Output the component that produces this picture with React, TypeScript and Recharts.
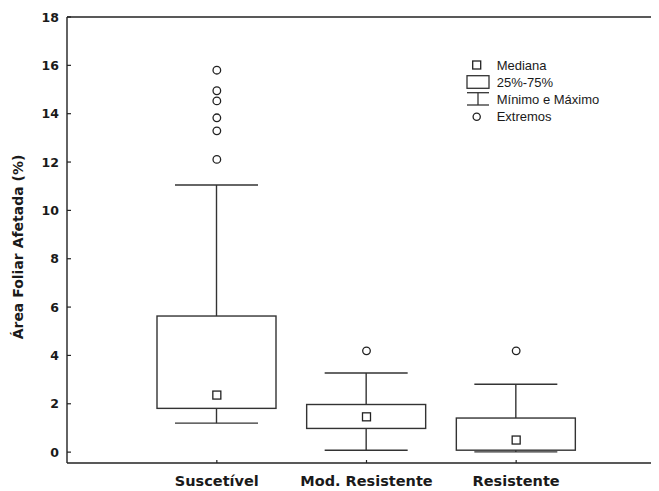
import React from 'react';
import { ComposedChart, Bar, Scatter, XAxis, YAxis, ReferenceLine, Legend } from 'recharts';

const categorias = ['Suscetível', 'Mod. Resistente', 'Resistente'];
const minimos = [1.2, 0.08, 0.01];
const quartil1 = [1.81, 0.98, 0.08];
const medianas = [2.36, 1.46, 0.5];
const quartil3 = [5.63, 1.97, 1.41];
const maximos = [11.05, 3.27, 2.81];
const extremos = [
  [15.8, 14.95, 14.53, 13.83, 13.29, 12.11],
  [4.19],
  [4.19],
];
const yTicks = [0, 2, 4, 6, 8, 10, 12, 14, 16, 18];
const legendLabels = ['Mediana', '25%-75%', 'Mínimo e Máximo', 'Extremos'];

const extremoKeys = ['e1', 'e2', 'e3', 'e4', 'e5', 'e6'];

const data = categorias.map((name, i) => {
  const row: any = {
    name,
    min: minimos[i],
    q1: quartil1[i],
    median: medianas[i],
    q3: quartil3[i],
    max: maximos[i],
  };
  extremoKeys.forEach((k, j) => {
    row[k] = extremos[i][j] ?? null;
  });
  return row;
});

const LINE = '#333';
const AXIS = '#222';
const BOLD = '"DejaVu Sans", "Liberation Sans", Arial, sans-serif';
const REG = '"Liberation Sans", Arial, sans-serif';

const WhiskerShape = (p: any) => {
  const { x, y, width, height } = p;
  if (x == null || y == null) return <g />;
  const top = Math.min(y, y + height);
  const bot = Math.max(y, y + height);
  const cx = x + width / 2;
  return (
    <g stroke={LINE} strokeWidth={1.4} fill="none">
      <line x1={cx} x2={cx} y1={top} y2={bot} />
      <line x1={x} x2={x + width} y1={top} y2={top} />
      <line x1={x} x2={x + width} y1={bot} y2={bot} />
    </g>
  );
};

const BoxShape = (p: any) => {
  const { x, y, width, height } = p;
  if (x == null || y == null) return <g />;
  const top = Math.min(y, y + height);
  const h = Math.abs(height);
  return <rect x={x} y={top} width={width} height={h} fill="#fff" stroke={LINE} strokeWidth={1.4} />;
};

const SquareShape = (p: any) => {
  const { cx, cy } = p;
  if (cx == null || cy == null || Number.isNaN(cy)) return <g />;
  return <rect x={cx - 4} y={cy - 4} width={8} height={8} fill="#fff" stroke={AXIS} strokeWidth={1.3} />;
};

const makeCircle = (key: string) => (p: any) => {
  const { cx, cy, payload } = p;
  if (cx == null || cy == null || Number.isNaN(cy) || !payload || payload[key] == null) return <g />;
  return <circle cx={cx} cy={cy} r={3.8} fill="#fff" stroke={AXIS} strokeWidth={1.3} />;
};

const XTick = (p: any) => {
  const { x, y, payload } = p;
  return (
    <text x={x} y={y} dy="0.71em" textAnchor="middle" fontFamily={BOLD} fontWeight="bold" fontSize={14.5} fill="#1a1a1a">
      {payload.value}
    </text>
  );
};

const YTick = (p: any) => {
  const { x, y, payload } = p;
  return (
    <text x={x} y={y} dy="0.36em" textAnchor="end" fontFamily={BOLD} fontWeight="bold" fontSize={12.5} fill="#1a1a1a">
      {payload.value}
    </text>
  );
};

const YLabel = () => (
  <text
    x={10}
    y={239}
    transform="rotate(-90, 10, 239)"
    textAnchor="middle"
    dominantBaseline="central"
    fontFamily={BOLD}
    fontWeight="bold"
    fontSize={14}
    fill="#1a1a1a"
  >
    Área Foliar Afetada (%)
  </text>
);

const LegendContent = () => (
  <svg width={180} height={75} style={{ display: 'block', overflow: 'visible' }}>
    <rect x={12.7} y={6} width={8} height={8} fill="#fff" stroke={AXIS} strokeWidth={1.3} />
    <rect x={7} y={20.7} width={22} height={12.6} fill="#fff" stroke={LINE} strokeWidth={1.3} />
    <g stroke={LINE} strokeWidth={1.3}>
      <line x1={7} x2={29} y1={37.7} y2={37.7} />
      <line x1={18} x2={18} y1={37.7} y2={50} />
      <line x1={7} x2={29} y1={50} y2={50} />
    </g>
    <circle cx={16.7} cy={61.7} r={3.6} fill="#fff" stroke={AXIS} strokeWidth={1.3} />
    <g fontFamily={REG} fontSize={13} fill="#1a1a1a">
      <text x={36.7} y={14.6}>{legendLabels[0]}</text>
      <text x={36.7} y={31.5}>{legendLabels[1]}</text>
      <text x={36.7} y={48.5}>{legendLabels[2]}</text>
      <text x={36.7} y={66}>{legendLabels[3]}</text>
    </g>
  </svg>
);

export default function App() {
  return (
    <ComposedChart width={651} height={483} data={data} margin={{ top: 9, right: 0, bottom: 0, left: 0 }}>
      <XAxis xAxisId="b" dataKey="name" type="category" padding={{ left: 75, right: 68 }} height={0} hide />
      <XAxis
        xAxisId="w"
        dataKey="name"
        type="category"
        padding={{ left: 75, right: 68 }}
        height={28}
        tickSize={-3}
        tickMargin={16}
        tick={<XTick />}
        axisLine={{ stroke: AXIS, strokeWidth: 1.4 }}
        tickLine={{ stroke: AXIS, strokeWidth: 1.2 }}
      />
      <YAxis
        type="number"
        domain={[-0.45, 18]}
        ticks={yTicks}
        width={59}
        tickSize={-4}
        tickMargin={12}
        tick={<YTick />}
        axisLine={{ stroke: AXIS, strokeWidth: 1.4 }}
        tickLine={{ stroke: AXIS, strokeWidth: 1.2 }}
        allowDataOverflow
        label={<YLabel />}
      />
      <ReferenceLine xAxisId="w" y={18} stroke={AXIS} strokeWidth={1.4} />
      <Bar
        xAxisId="w"
        dataKey={(d: any) => [d.min, d.max]}
        barSize={83}
        shape={<WhiskerShape />}
        isAnimationActive={false}
      />
      <Bar
        xAxisId="b"
        dataKey={(d: any) => [d.q1, d.q3]}
        barSize={119}
        shape={<BoxShape />}
        isAnimationActive={false}
      />
      <Scatter xAxisId="w" dataKey="median" shape={<SquareShape />} isAnimationActive={false} />
      {extremoKeys.map((k) => (
        <Scatter key={k} xAxisId="w" dataKey={k} shape={makeCircle(k)} isAnimationActive={false} />
      ))}
      <Legend
        layout="vertical"
        align="center"
        verticalAlign="middle"
        content={<LegendContent />}
        wrapperStyle={{ position: 'absolute', left: 452, top: 47, width: 180, height: 75 }}
      />
    </ComposedChart>
  );
}
